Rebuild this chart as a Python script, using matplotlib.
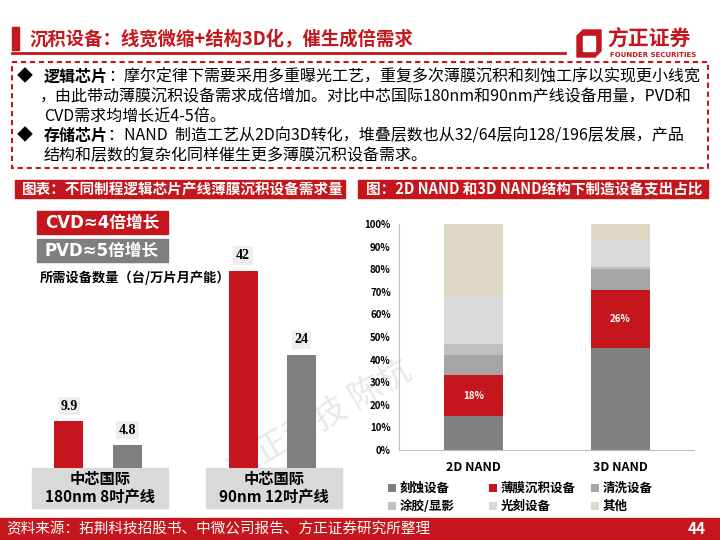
import matplotlib
matplotlib.use('Agg')
import matplotlib.pyplot as plt
from matplotlib.patches import Rectangle, Polygon
import numpy as np

plt.rcParams['font.family'] = ['Noto Sans CJK SC', 'DejaVu Sans']

RED = '#c4161c'
GRAY = '#7f7f7f'

# left chart: equipment needed per 10k wafers/month
lines = ['中芯国际\n180nm 8吋产线', '中芯国际\n90nm 12吋产线']
cvd_counts = [9.9, 42]
pvd_counts = [4.8, 24]

# right chart: equipment spend share
nand_types = ['2D NAND', '3D NAND']
share_labels = ['刻蚀设备', '薄膜沉积设备', '清洗设备', '涂胶/显影', '光刻设备', '其他']
share_2d = [0.15, 0.18, 0.09, 0.05, 0.21, 0.32]
share_3d = [0.45, 0.26, 0.09, 0.01, 0.12, 0.07]
share_colors = ['#808080', RED, '#a5a5a5', '#bfbfbf', '#d9d9d9', '#ddd9c4']

W, H = 720, 540
fig = plt.figure(figsize=(7.2, 5.4), dpi=100)


def rect(x0, y0, x1, y1):
    return [x0 / W, 1 - y1 / H, (x1 - x0) / W, (y1 - y0) / H]


deco = fig.add_axes([0, 0, 1, 1])
deco.set_xlim(0, W)
deco.set_ylim(H, 0)
deco.axis('off')

# title
deco.add_patch(Rectangle((12, 27), 7, 23, color=RED))
deco.text(30, 39, '沉积设备：线宽微缩+结构3D化，催生成倍需求', color=RED,
          fontsize=13.2, fontweight='bold', va='center')
deco.plot([12, 565], [53, 53], color=RED, lw=2)

# logo
deco.add_patch(Polygon([(577, 57), (577, 36), (583, 30), (601, 30), (601, 51), (595, 57)],
                       closed=True, color=RED))
deco.add_patch(Rectangle((583, 36), 12, 15, color='white'))
deco.text(607, 39, '方正证券', color=RED, fontsize=15, fontweight='bold', va='center')
deco.text(610, 55, 'FOUNDER SECURITIES', color=RED, fontsize=5, fontweight='bold',
          va='center', family=['DejaVu Sans'])

# dashed box with bullet text
deco.add_patch(Rectangle((12, 62), 696, 106, fill=False, ec=RED, lw=1.5, ls=(0, (2.5, 1.8))))
fs = 11.5
fig.canvas.draw()
renderer = fig.canvas.get_renderer()


def bold_then_plain(x, y, bold, plain):
    t = deco.text(x, y, bold, fontsize=fs, fontweight='bold', va='center')
    bb = t.get_window_extent(renderer)
    deco.text(bb.x1, y, plain, fontsize=fs, va='center')


deco.text(17, 77, '◆', fontsize=fs, va='center')
bold_then_plain(44, 77, '逻辑芯片', '：摩尔定律下需要采用多重曝光工艺，重复多次薄膜沉积和刻蚀工序以实现更小线宽')
deco.text(40, 97, '，由此带动薄膜沉积设备需求成倍增加。对比中芯国际180nm和90nm产线设备用量，PVD和',
          fontsize=fs, va='center')
deco.text(44, 117, 'CVD需求均增长近4-5倍。', fontsize=fs, va='center')
deco.text(17, 136, '◆', fontsize=fs, va='center')
bold_then_plain(44, 136, '存储芯片', '：NAND  制造工艺从2D向3D转化，堆叠层数也从32/64层向128/196层发展，产品')
deco.text(44, 156, '结构和层数的复杂化同样催生更多薄膜沉积设备需求。', fontsize=fs, va='center')

# section headers
deco.add_patch(Rectangle((15, 180), 330, 18, color=RED))
deco.text(22, 189, '图表：不同制程逻辑芯片产线薄膜沉积设备需求量', color='white',
          fontsize=10.5, fontweight='bold', va='center')
deco.add_patch(Rectangle((358, 180), 350, 18, color=RED))
deco.text(366, 189, '图：2D NAND 和3D NAND结构下制造设备支出占比', color='white',
          fontsize=10.5, fontweight='bold', va='center')

# left chart legend-like boxes
deco.add_patch(Rectangle((37, 211), 131, 23, color=RED))
deco.text(45, 222.5, 'CVD≈4倍增长', color='white', fontsize=12, fontweight='bold', va='center',
          family=['DejaVu Sans', 'Noto Sans CJK SC'])
deco.add_patch(Rectangle((37, 239), 131, 23, color=GRAY))
deco.text(45, 250.5, 'PVD≈5倍增长', color='white', fontsize=12, fontweight='bold', va='center',
          family=['DejaVu Sans', 'Noto Sans CJK SC'])
deco.text(40, 278, '所需设备数量（台/万片月产能）', fontsize=9.5, fontweight='bold', va='center')

# watermark
deco.text(320, 420, '方正科技 陈杭', fontsize=24, color='#e8e8e8', rotation=30,
          ha='center', va='center', zorder=0)

# footer
deco.add_patch(Rectangle((0, 518), W, 22, color=RED))
deco.text(6, 529, '资料来源：拓荆科技招股书、中微公司报告、方正证券研究所整理', color='white',
          fontsize=10.5, va='center')
deco.text(706, 529, '44', color='white', fontsize=11, fontweight='bold', va='center', ha='right')

# ---- left bar chart ----
ax1 = fig.add_axes(rect(32, 200, 342, 468))
ax1.patch.set_alpha(0)
ind = np.arange(len(lines))
width = 0.167
r1 = ax1.bar(ind - 0.168, cvd_counts, width, color=RED)
r2 = ax1.bar(ind + 0.168, pvd_counts, width, color=GRAY)
ax1.set_xlim(-0.38, 1.40)
ax1.set_ylim(0, 57)
ax1.axis('off')
for rects in (r1, r2):
    for rc in rects:
        h = rc.get_height()
        ax1.annotate('%g' % h, (rc.get_x() + rc.get_width() / 2, h), xytext=(0, 11),
                     textcoords='offset points', ha='center', va='center',
                     fontsize=10, fontweight='bold', family=['Liberation Serif'],
                     bbox=dict(boxstyle='square,pad=0.2', fc='#eeeeee', ec='none'))

# category boxes below left chart
for i, lab in enumerate(lines):
    x0 = ax1.transData.transform((i - 0.38, 0))[0]
    x1 = ax1.transData.transform((i + 0.40, 0))[0]
    deco.add_patch(Rectangle((x0, 468), x1 - x0, 40, color='#d9d9d9'))
    deco.text((x0 + x1) / 2, 488, lab, ha='center', va='center', fontsize=11,
              fontweight='bold', linespacing=1.15)

# ---- right stacked chart ----
ax2 = fig.add_axes(rect(399, 224, 694, 450))
ax2.patch.set_alpha(0)
x2 = np.arange(len(nand_types))
bottom = np.zeros(2)
handles = []
for k, lab in enumerate(share_labels):
    vals = np.array([share_2d[k], share_3d[k]])
    b = ax2.bar(x2, vals, 0.40, bottom=bottom, color=share_colors[k], label=lab)
    handles.append(b)
    if k == 1:
        for xi, v, bt in zip(x2, vals, bottom):
            ax2.text(xi, bt + v / 2, '%d%%' % round(v * 100), color='white',
                     ha='center', va='center', fontsize=7, fontweight='bold')
    bottom += vals
ax2.set_xlim(-0.507, 1.5)
ax2.set_ylim(0, 1)
ax2.set_yticks(np.arange(0, 1.01, 0.1))
ax2.set_yticklabels(['%d%%' % v for v in range(0, 101, 10)], fontsize=7, fontweight='bold')
ax2.set_xticks(x2)
ax2.set_xticklabels(nand_types, fontsize=9, fontweight='bold')
ax2.tick_params(length=0, pad=6)
ax2.tick_params(axis='x', pad=8)
for s in ('top', 'right'):
    ax2.spines[s].set_visible(False)
ax2.spines['left'].set_color('#bfbfbf')
ax2.spines['bottom'].set_color('#bfbfbf')

# legend: three columns of two rows each
for c, xc in enumerate([388, 489, 591]):
    idx = [c, c + 3]
    fig.legend([handles[i] for i in idx], [share_labels[i] for i in idx],
               loc='upper left', bbox_to_anchor=(xc / W, 1 - 482 / H), ncol=1,
               frameon=False, borderpad=0, borderaxespad=0,
               handlelength=0.6, handleheight=0.6, handletextpad=0.3,
               labelspacing=0.4, prop={'size': 9, 'weight': 'bold'})

fig.savefig('out.png', dpi=100)
